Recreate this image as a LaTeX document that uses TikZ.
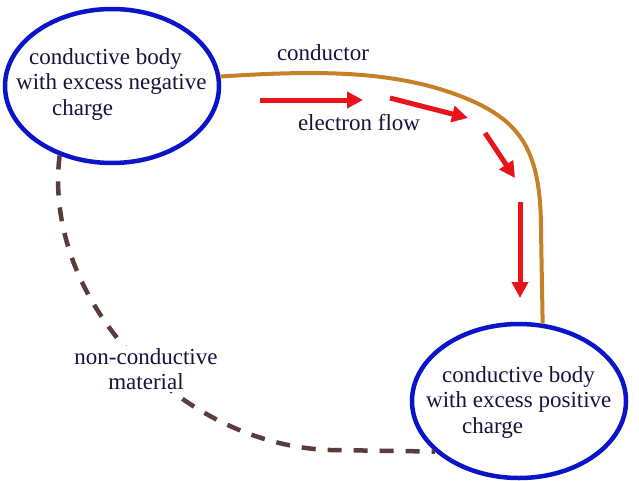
\documentclass[tikz,border=0pt]{standalone}
\usepackage{fontspec}
\setmainfont{Liberation Serif}
\usepackage{xcolor}
\usetikzlibrary{shapes.geometric, arrows.meta}

\definecolor{bodyblue}{RGB}{10,20,200}
\definecolor{textnavy}{RGB}{20,20,60}
\definecolor{wirebrown}{RGB}{200,128,40}
\definecolor{insulbrown}{RGB}{90,60,60}
\definecolor{flowred}{RGB}{232,20,26}

\begin{document}
\begin{tikzpicture}[
      x=1pt, y=-1pt,
      body/.style={ellipse, draw=bodyblue, fill=white, line width=4.5pt,
                   minimum width=214pt, minimum height=154pt, inner sep=0pt},
      bodytext/.style={font=\fontsize{23}{25.5}\selectfont, text=textnavy,
                       align=left, inner sep=0pt, anchor=west},
      lbl/.style={font=\fontsize{23}{25.5}\selectfont, text=textnavy,
                  align=center, inner sep=2pt},
      wire/.style={draw=wirebrown, line width=4pt},
      insul/.style={draw=insulbrown, line width=4.5pt, dash pattern=on 14pt off 12pt},
      flow/.style={draw=flowred, line width=5pt, -{Triangle[length=16pt, width=16pt]}}
    ]
    \path[use as bounding box, fill=white] (0,0) rectangle (639,480);

    % the two charged bodies
    \node[body] (neg) at (112,86) {};
    \node[body] (pos) at (519,401) {};
    \node[bodytext] (negtxt) at (16,84)
      {\hspace*{13pt}conductive body\\with excess negative\\\hspace*{36pt}charge};
    \node[bodytext] (postxt) at (426,402)
      {\hspace*{16pt}conductive body\\with excess positive\\\hspace*{36pt}charge};

    % conductor and insulator
    \draw[wire] (neg.5) .. controls (320,70) and (400,70) .. (470,100)
                        .. controls (520,122) and (541,150) .. (541,230) -- (pos.73);
    \draw[insul] (neg.233) .. controls (42,300) and (180,445) .. (330,450) -- (pos.211);

    \node[lbl] (cond) at (323,53) {conductor};
    \node[lbl] (flowlbl) at (359,123) {electron flow};
    \node[lbl, fill=white] (nonc) at (146,369) {non-conductive\\material};

    % electron flow
    \draw[flow] (260,100) -- (363,100);
    \draw[flow] (390,98) -- (468,118);
    \draw[flow] (485,133) -- (515,178);
    \draw[flow] (520,202) -- (520,298);
  \end{tikzpicture}
\end{document}
